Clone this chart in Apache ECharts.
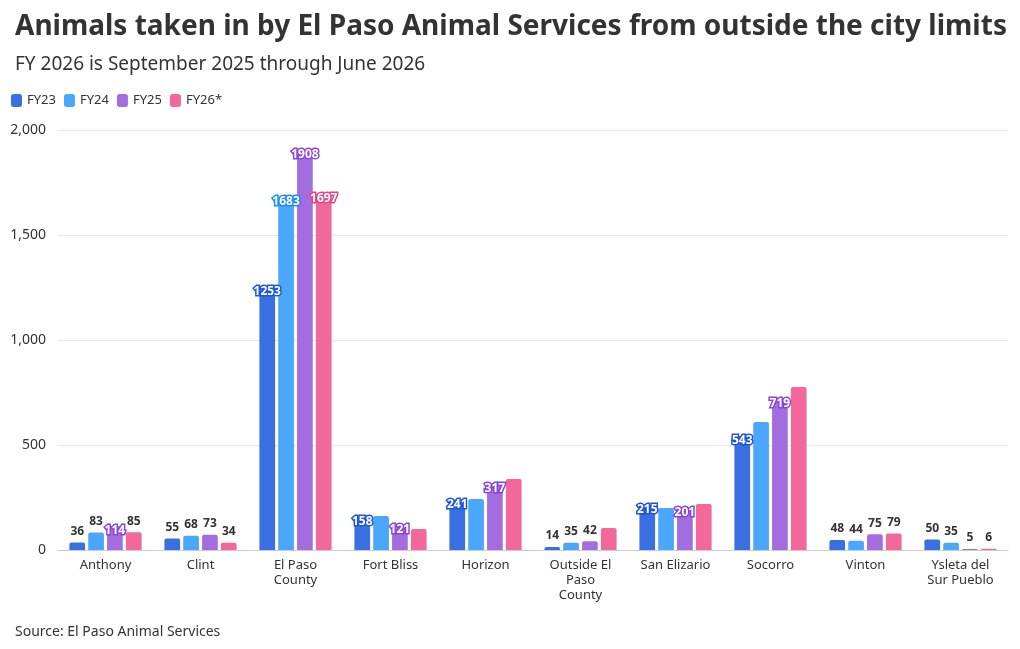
<!DOCTYPE html>
<html>
<head>
<meta charset="utf-8">
<script src="https://cdn.jsdelivr.net/npm/echarts@6/dist/echarts.min.js"></script>
<style>
  body { margin: 0; background: #fff; font-family: "Noto Sans", sans-serif; }
  #chart { width: 1020px; height: 649px; }
</style>
</head>
<body>
<div id="chart"></div>
<script>
const categories = ["Anthony", "Clint", "El Paso\nCounty", "Fort Bliss", "Horizon",
    "Outside El\nPaso\nCounty", "San Elizario", "Socorro", "Vinton", "Ysleta del\nSur Pueblo"];
const seriesNames = ["FY23", "FY24", "FY25", "FY26*"];
const fy23 = [36, 55, 1253, 158, 241, 14, 215, 543, 48, 50];
const fy24 = [83, 68, 1683, 162, 243, 35, 200, 610, 44, 35];
const fy25 = [114, 73, 1908, 121, 317, 42, 201, 719, 75, 5];
const fy26 = [85, 34, 1697, 100, 338, 105, 219, 776, 79, 6];
// label mode per bar: "in" = white label inside top, "top" = dark label above, "" = none
const labels23 = ["top", "top", "in", "in", "in", "top", "in", "in", "top", "top"];
const labels24 = ["top", "top", "in", "", "", "top", "", "", "top", "top"];
const labels25 = ["in", "top", "in", "in", "in", "top", "in", "in", "top", "top"];
const labels26 = ["top", "top", "in", "", "", "", "", "", "top", "top"];

const colors = ["#3a6fe2", "#4aa7fc", "#a46ddf", "#f2689b"];
const darks = ["#1d56d6", "#1c8bf0", "#8b45d6", "#e5457f"];

function makeData(values, modes, i) {
    return values.map((v, k) => {
        const m = modes[k];
        if (m === "in") {
            return { value: v, label: { show: true, position: "insideTop", offset: [0, -6], color: "#fff",
                textBorderColor: darks[i], textBorderWidth: 3, fontWeight: "bold", fontSize: 12 } };
        }
        if (m === "top") {
            return { value: v, label: { show: true, position: "top", color: "#333", fontWeight: "bold", fontSize: 12 } };
        }
        return { value: v, label: { show: false } };
    });
}

const chart = echarts.init(document.getElementById("chart"));
chart.setOption({
    textStyle: { fontFamily: "Noto Sans" },
    title: [
        { text: "Animals taken in by El Paso Animal Services from outside the city limits",
          left: 10, top: 8, textStyle: { fontSize: 28, fontWeight: "bold", color: "#333" } },
        { text: "FY 2026 is September 2025 through June 2026",
          left: 10, top: 50, textStyle: { fontSize: 19, fontWeight: "normal", color: "#333" } },
        { text: "Source: El Paso Animal Services",
          left: 10, top: 620, textStyle: { fontSize: 14, fontWeight: "normal", color: "#333" } }
    ],
    legend: {
        left: 6, top: 89, itemWidth: 11, itemHeight: 13, itemGap: 8,
        icon: "roundRect", textStyle: { fontSize: 13, color: "#333" },
        data: seriesNames
    },
    grid: { left: 58, right: 12, top: 130, bottom: 99 },
    xAxis: {
        type: "category", data: categories,
        axisLine: { lineStyle: { color: "#ccc" } },
        axisTick: { show: false },
        axisLabel: { color: "#333", fontSize: 13, interval: 0, lineHeight: 15 }
    },
    yAxis: {
        type: "value", min: 0, max: 2000, interval: 500,
        axisLabel: { color: "#333", fontSize: 14, margin: 12 },
        splitLine: { lineStyle: { color: "#e8e8e8" } }
    },
    series: [fy23, fy24, fy25, fy26].map((vals, i) => ({
        name: seriesNames[i], type: "bar",
        barGap: "20%", barCategoryGap: "24%",
        itemStyle: { color: colors[i], borderRadius: [2, 2, 0, 0] },
        data: makeData(vals, [labels23, labels24, labels25, labels26][i], i)
    }))
});
</script>
</body>
</html>
